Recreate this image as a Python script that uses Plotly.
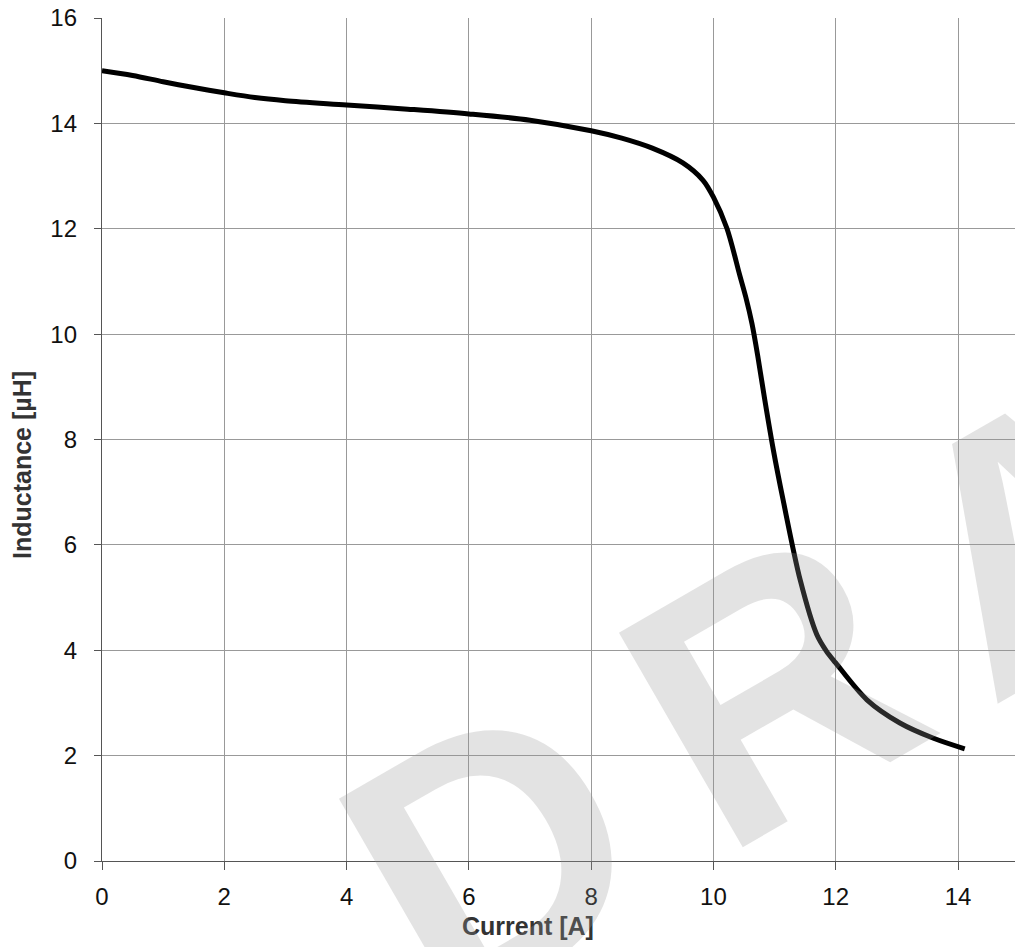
import plotly.graph_objects as go

# Inductance vs current
current_a = [0.0, 0.5, 1.0, 1.5, 2.0, 2.5, 3.0, 4.0, 5.0, 6.0, 7.0, 8.0, 8.5, 9.0, 9.5,
             9.83, 10.0, 10.22, 10.43, 10.53, 10.63, 10.73, 10.84, 10.98, 11.14, 11.42, 11.69,
             11.85, 12.0, 12.51, 13.05, 13.6, 14.11]
inductance_uh = [15.0, 14.91, 14.79, 14.68, 14.58, 14.49, 14.43, 14.35, 14.27, 14.18, 14.06,
                 13.86, 13.72, 13.53, 13.25, 12.92, 12.6, 12.01, 11.12, 10.7, 10.2, 9.55, 8.75,
                 7.8, 6.85, 5.33, 4.3, 3.98, 3.76, 3.06, 2.62, 2.33, 2.13]

x_ticks = [0, 2, 4, 6, 8, 10, 12, 14]
y_ticks = [0, 2, 4, 6, 8, 10, 12, 14, 16]
x_title = "Current [A]"
y_title = "Inductance [µH]"
watermark_letters = ["D", "R", "A", "F", "T"]

W, H = 1015, 947
ML, MR, MT, MB = 102, 0, 18, 86
pw, ph = W - ML - MR, H - MT - MB

def px(xp):
    return (xp - ML) / pw

def py(yp):
    return (H - MB - yp) / ph

fig = go.Figure()
fig.add_trace(go.Scatter(
    x=current_a, y=inductance_uh, mode="lines",
    line=dict(color="#000000", width=5, shape="spline", smoothing=0.9),
    showlegend=False, hoverinfo="skip",
))

tick_font = dict(family="Liberation Sans, Arial, sans-serif", size=24, color="#111111")
fig.update_xaxes(
    range=[0, (W - ML) / ((958 - 102) / 14)], tickvals=x_ticks,
    ticktext=[str(v) for v in x_ticks],
    showgrid=True, gridcolor="#999999", gridwidth=1.3,
    showline=True, linecolor="#555555", linewidth=1.3, zeroline=False,
    ticks="outside", ticklen=8, tickcolor="#555555", tickwidth=1.3,
    tickfont=tick_font, ticklabelstandoff=6, automargin=False, ticklabeloverflow="allow",
)
fig.update_yaxes(
    range=[0, 16], tickvals=y_ticks, ticktext=[str(v) for v in y_ticks],
    showgrid=True, gridcolor="#999999", gridwidth=1.3,
    showline=True, linecolor="#555555", linewidth=1.3, zeroline=False,
    ticks="outside", ticklen=7, tickcolor="#555555", tickwidth=1.3,
    tickfont=tick_font, ticklabelstandoff=12, automargin=False, ticklabeloverflow="allow",
)

annotations = [
    dict(text=f"<b>{x_title}</b>", xref="paper", yref="paper", x=px(528), y=py(926),
         showarrow=False, font=dict(family="Liberation Sans, Arial, sans-serif", size=25, color="#333333"),
         xanchor="center", yanchor="middle"),
    dict(text=f"<b>{y_title}</b>", xref="paper", yref="paper", x=px(22), y=py(465),
         showarrow=False, textangle=-90,
         font=dict(family="Liberation Sans, Arial, sans-serif", size=25, color="#333333"),
         xanchor="center", yanchor="middle"),
]

# watermark letter centres (page pixels), along a line rising at ~30 degrees
wm_centers = [(492, 852), (772, 686), (1040, 535), (1300, 385), (1560, 235)]
for letter, (cx, cy) in zip(watermark_letters, wm_centers):
    annotations.append(dict(
        text=f"<b>{letter}</b>", xref="paper", yref="paper", x=px(cx), y=py(cy),
        showarrow=False, textangle=-30, xanchor="center", yanchor="middle",
        font=dict(family="Liberation Sans, Arial, sans-serif",
                  size=360, color="rgba(153,153,153,0.27)"),
    ))

fig.update_layout(
    width=W, height=H,
    margin=dict(l=ML, r=MR, t=MT, b=MB),
    paper_bgcolor="#ffffff", plot_bgcolor="#ffffff",
    annotations=annotations,
    showlegend=False,
)

fig.write_html(
    "out.html",
    config={"displayModeBar": False},
    post_script="document.body.style.margin='0';document.body.style.overflow='hidden';",
)
